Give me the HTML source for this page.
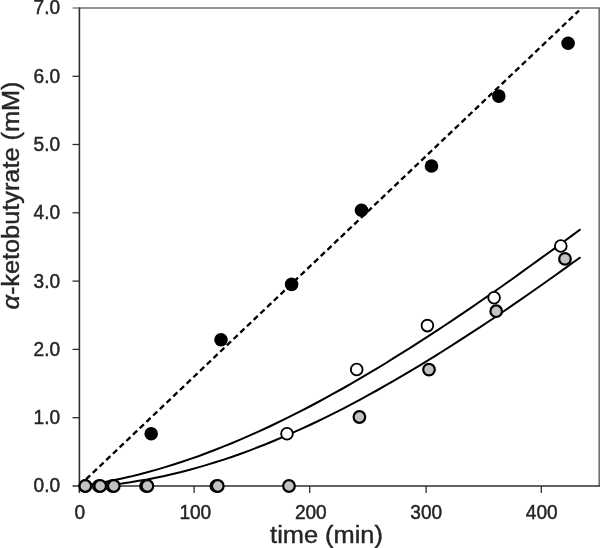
<!DOCTYPE html>
<html><head><meta charset="utf-8"><title>chart</title>
<style>html,body{margin:0;padding:0;background:#fff}svg{display:block}text{font-family:"Liberation Sans",sans-serif;fill:#262626;stroke:#262626;stroke-width:0.45px}</style></head>
<body>
<svg width="600" height="548" viewBox="0 0 600 548">
<rect width="600" height="548" fill="#fff"/>
<path d="M79.4,8 H599.2 V486.0" fill="none" stroke="#707070" stroke-width="1.6"/>
<path d="M79.4,7.3 V493" fill="none" stroke="#2e2e2e" stroke-width="1.6"/>
<path d="M72.5,486.0 H600" fill="none" stroke="#2e2e2e" stroke-width="1.6"/>
<path d="M72.5,417.7 H79.4" stroke="#2e2e2e" stroke-width="1.3"/>
<path d="M72.5,349.4 H79.4" stroke="#2e2e2e" stroke-width="1.3"/>
<path d="M72.5,281.1 H79.4" stroke="#2e2e2e" stroke-width="1.3"/>
<path d="M72.5,212.8 H79.4" stroke="#2e2e2e" stroke-width="1.3"/>
<path d="M72.5,144.5 H79.4" stroke="#2e2e2e" stroke-width="1.3"/>
<path d="M72.5,76.3 H79.4" stroke="#2e2e2e" stroke-width="1.3"/>
<path d="M72.5,8.0 H79.4" stroke="#707070" stroke-width="1.3"/>
<path d="M194.1,486.0 V493" stroke="#2e2e2e" stroke-width="1.3"/>
<path d="M309.7,486.0 V493" stroke="#2e2e2e" stroke-width="1.3"/>
<path d="M426.1,486.0 V493" stroke="#2e2e2e" stroke-width="1.3"/>
<path d="M541.3,486.0 V493" stroke="#2e2e2e" stroke-width="1.3"/>
<text transform="translate(60.1,492.4) scale(1,1.06)" font-size="19.1" text-anchor="end">0.0</text>
<text transform="translate(60.1,424.1) scale(1,1.06)" font-size="19.1" text-anchor="end">1.0</text>
<text transform="translate(60.1,355.8) scale(1,1.06)" font-size="19.1" text-anchor="end">2.0</text>
<text transform="translate(60.1,287.5) scale(1,1.06)" font-size="19.1" text-anchor="end">3.0</text>
<text transform="translate(60.1,219.2) scale(1,1.06)" font-size="19.1" text-anchor="end">4.0</text>
<text transform="translate(60.1,150.9) scale(1,1.06)" font-size="19.1" text-anchor="end">5.0</text>
<text transform="translate(60.1,82.7) scale(1,1.06)" font-size="19.1" text-anchor="end">6.0</text>
<text transform="translate(60.1,14.4) scale(1,1.06)" font-size="19.1" text-anchor="end">7.0</text>
<text transform="translate(79.8,519.3) scale(1,1.06)" font-size="19.1" text-anchor="middle">0</text>
<text transform="translate(195.3,519.3) scale(1,1.06)" font-size="19.1" text-anchor="middle">100</text>
<text transform="translate(310.8,519.3) scale(1,1.06)" font-size="19.1" text-anchor="middle">200</text>
<text transform="translate(426.2,519.3) scale(1,1.06)" font-size="19.1" text-anchor="middle">300</text>
<text transform="translate(541.7,519.3) scale(1,1.06)" font-size="19.1" text-anchor="middle">400</text>
<text transform="translate(326.5,542.6) scale(1,0.96)" font-size="25.4" text-anchor="middle">time (min)</text>
<text transform="translate(19.2,195.5) rotate(-90) scale(1,0.94)" font-size="25.3" text-anchor="middle"><tspan font-style="italic">α</tspan>-ketobutyrate (mM)</text>
<path d="M79.4,485.6 L579,10.6" fill="none" stroke="#000" stroke-width="2.35" stroke-dasharray="5.7 3.55"/>
<path d="M79.4,486.0 L87.9,484.9 L96.4,483.5 L104.9,482.0 L113.4,480.3 L121.9,478.5 L130.4,476.6 L138.9,474.5 L147.3,472.2 L155.8,469.9 L164.3,467.4 L172.8,464.8 L181.3,462.0 L189.8,459.1 L198.3,456.2 L206.8,453.0 L215.3,449.8 L223.8,446.4 L232.3,443.0 L240.8,439.4 L249.3,435.7 L257.8,431.9 L266.3,428.0 L274.7,424.0 L283.2,419.9 L291.7,415.7 L300.2,411.4 L308.7,407.0 L317.2,402.5 L325.7,397.9 L334.2,393.2 L342.7,388.5 L351.2,383.6 L359.7,378.7 L368.2,373.7 L376.7,368.6 L385.2,363.5 L393.6,358.2 L402.1,352.9 L410.6,347.6 L419.1,342.1 L427.6,336.7 L436.1,331.1 L444.6,325.5 L453.1,319.8 L461.6,314.1 L470.1,308.3 L478.6,302.5 L487.1,296.6 L495.6,290.7 L504.1,284.7 L512.6,278.7 L521.0,272.6 L529.5,266.5 L538.0,260.4 L546.5,254.2 L555.0,248.1 L563.5,241.8 L572.0,235.6 L580.5,229.3" fill="none" stroke="#000" stroke-width="2"/>
<path d="M79.4,486.0 L87.9,486.0 L96.4,486.0 L104.9,485.2 L113.4,484.4 L121.9,483.4 L130.4,482.2 L138.9,480.8 L147.3,479.4 L155.8,477.7 L164.3,476.0 L172.8,474.0 L181.3,472.0 L189.8,469.8 L198.3,467.4 L206.8,464.9 L215.3,462.3 L223.8,459.6 L232.3,456.7 L240.8,453.7 L249.3,450.6 L257.8,447.3 L266.3,444.0 L274.7,440.5 L283.2,436.9 L291.7,433.2 L300.2,429.4 L308.7,425.5 L317.2,421.5 L325.7,417.3 L334.2,413.1 L342.7,408.8 L351.2,404.3 L359.7,399.8 L368.2,395.2 L376.7,390.5 L385.2,385.7 L393.6,380.9 L402.1,375.9 L410.6,370.9 L419.1,365.8 L427.6,360.6 L436.1,355.4 L444.6,350.0 L453.1,344.6 L461.6,339.2 L470.1,333.7 L478.6,328.1 L487.1,322.5 L495.6,316.8 L504.1,311.0 L512.6,305.2 L521.0,299.4 L529.5,293.5 L538.0,287.5 L546.5,281.5 L555.0,275.5 L563.5,269.4 L572.0,263.3 L580.5,257.2" fill="none" stroke="#000" stroke-width="2"/>
<circle cx="151.2" cy="433.8" r="6.8" fill="#000"/>
<circle cx="221.0" cy="339.7" r="6.8" fill="#000"/>
<circle cx="291.6" cy="284.4" r="6.8" fill="#000"/>
<circle cx="361.5" cy="210.2" r="6.8" fill="#000"/>
<circle cx="431.5" cy="166.0" r="6.8" fill="#000"/>
<circle cx="498.8" cy="96.1" r="6.8" fill="#000"/>
<circle cx="568.1" cy="43.2" r="6.8" fill="#000"/>
<circle cx="85.3" cy="486" r="5.85" fill="#fff" stroke="#000" stroke-width="1.85"/>
<circle cx="98.7" cy="486" r="5.85" fill="#fff" stroke="#000" stroke-width="1.85"/>
<circle cx="112.1" cy="486" r="5.85" fill="#fff" stroke="#000" stroke-width="1.85"/>
<circle cx="145.9" cy="486" r="5.85" fill="#fff" stroke="#000" stroke-width="1.85"/>
<circle cx="216.3" cy="486" r="5.85" fill="#fff" stroke="#000" stroke-width="1.85"/>
<circle cx="287.0" cy="433.8" r="5.85" fill="#fff" stroke="#000" stroke-width="1.85"/>
<circle cx="356.7" cy="369.5" r="5.85" fill="#fff" stroke="#000" stroke-width="1.85"/>
<circle cx="427.4" cy="325.6" r="5.85" fill="#fff" stroke="#000" stroke-width="1.85"/>
<circle cx="494.1" cy="297.7" r="5.85" fill="#fff" stroke="#000" stroke-width="1.85"/>
<circle cx="560.8" cy="246" r="5.85" fill="#fff" stroke="#000" stroke-width="1.85"/>
<circle cx="85.3" cy="486" r="5.8" fill="#c2c2c2" stroke="#000" stroke-width="2.2"/>
<circle cx="100.2" cy="486" r="5.8" fill="#c2c2c2" stroke="#000" stroke-width="2.2"/>
<circle cx="113.8" cy="486" r="5.8" fill="#c2c2c2" stroke="#000" stroke-width="2.2"/>
<circle cx="147.4" cy="486" r="5.8" fill="#c2c2c2" stroke="#000" stroke-width="2.2"/>
<circle cx="217.8" cy="486" r="5.8" fill="#c2c2c2" stroke="#000" stroke-width="2.2"/>
<circle cx="289.0" cy="486" r="5.8" fill="#c2c2c2" stroke="#000" stroke-width="2.2"/>
<circle cx="359.4" cy="417" r="5.8" fill="#c2c2c2" stroke="#000" stroke-width="2.2"/>
<circle cx="429" cy="369.6" r="5.8" fill="#c2c2c2" stroke="#000" stroke-width="2.2"/>
<circle cx="496.2" cy="311.2" r="5.8" fill="#c2c2c2" stroke="#000" stroke-width="2.2"/>
<circle cx="565.0" cy="258.9" r="5.8" fill="#c2c2c2" stroke="#000" stroke-width="2.2"/>
</svg>
</body></html>
